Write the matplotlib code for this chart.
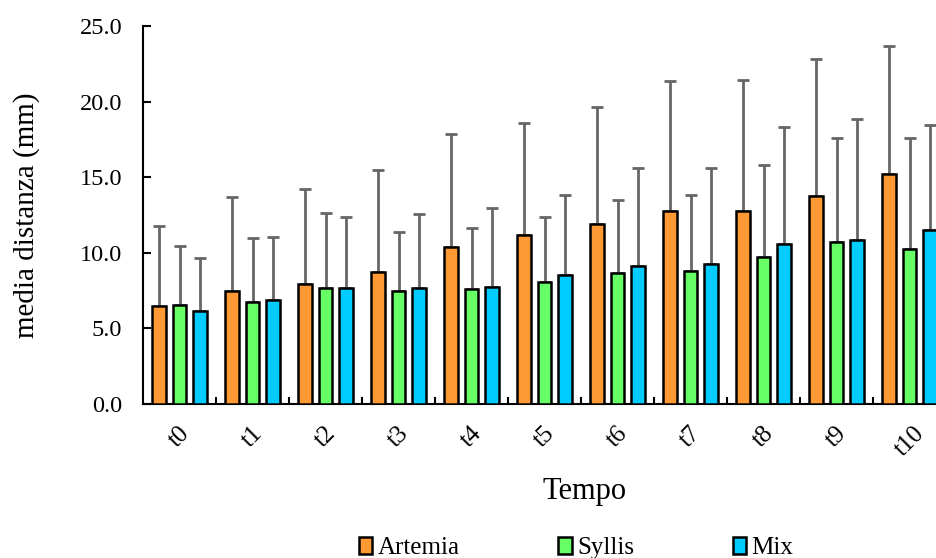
import matplotlib.pyplot as plt
import numpy as np

plt.rcParams['font.family'] = ['Liberation Serif', 'DejaVu Serif']

# data (mean and upper error bar)
tempi = ['t0', 't1', 't2', 't3', 't4', 't5', 't6', 't7', 't8', 't9', 't10']
artemia = [6.48, 7.45, 7.91, 8.70, 10.38, 11.19, 11.90, 12.74, 12.76, 13.73, 15.20]
artemia_top = [11.74, 13.68, 14.21, 15.47, 17.85, 18.57, 19.63, 21.39, 21.41, 22.85, 23.66]
syllis = [6.56, 6.72, 7.65, 7.47, 7.60, 8.08, 8.68, 8.79, 9.74, 10.69, 10.24]
syllis_top = [10.42, 10.97, 12.65, 11.39, 11.61, 12.36, 13.50, 13.81, 15.80, 17.58, 17.60]
mix = [6.15, 6.85, 7.65, 7.67, 7.73, 8.50, 9.12, 9.23, 10.57, 10.82, 11.52]
mix_top = [9.63, 11.02, 12.36, 12.58, 12.95, 13.81, 15.64, 15.58, 18.33, 18.88, 18.44]

series = [('Artemia', artemia, artemia_top, '#FF9933'),
          ('Syllis', syllis, syllis_top, '#66FF66'),
          ('Mix', mix, mix_top, '#00CCFF')]

fig = plt.figure(figsize=(9.36, 5.58), dpi=100)
ax = fig.add_axes([143/936, 1-404/558, 803/936, 378/558])

x = np.arange(len(tempi))
w = 0.19
step = 0.278
for i, (name, vals, tops, col) in enumerate(series):
    vals = np.array(vals)
    err = np.array(tops) - vals
    pos = x + (i - 1) * step
    ax.bar(pos, vals, width=w, color=col, edgecolor='black', linewidth=1.8,
           label=name, zorder=3)
    ax.errorbar(pos, vals, yerr=[np.zeros_like(err), err], fmt='none',
                ecolor='#666666', elinewidth=2, capsize=4.5, capthick=2, zorder=2)

ax.set_xlim(-0.5, len(tempi) - 0.5)
ax.set_ylim(0, 25)
ax.set_yticks(np.arange(0, 25.1, 5))
ax.set_yticklabels(['%.1f' % v for v in np.arange(0, 25.1, 5)], fontsize=17.5)
ax.tick_params(axis='y', direction='in', length=6, width=1.5, pad=15)

ax.set_xticks(x)
ax.set_xticklabels(tempi, rotation=45, fontsize=18, ha='center', va='top')
ax.set_xticks(np.arange(0.5, len(tempi) - 0.5, 1), minor=True)
ax.tick_params(axis='x', which='major', length=0, pad=13)
ax.tick_params(axis='x', which='minor', direction='in', length=5, width=1.5)

for s in ['top', 'right']:
    ax.spines[s].set_visible(False)
for s in ['left', 'bottom']:
    ax.spines[s].set_linewidth(1.5)

ax.set_ylabel('media distanza (mm)', fontsize=21)
ax.yaxis.set_label_coords(-0.128, 0.5)
fig.text(585/936, 1-492/558, 'Tempo', fontsize=22, ha='center', va='center')

fig.legend(loc='center', bbox_to_anchor=(576/936, 1-548/558), ncol=3, frameon=False,
           fontsize=18, handlelength=0.55, handleheight=0.7, handletextpad=0.2,
           columnspacing=3.95, borderpad=0)

fig.savefig('out.png', dpi=100)
